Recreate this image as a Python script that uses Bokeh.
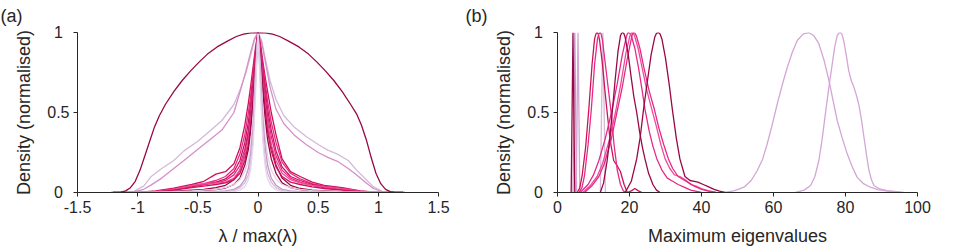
from bokeh.plotting import figure
from bokeh.layouts import row
from bokeh.models import FixedTicker, Range1d
from bokeh.embed import file_html
from bokeh.resources import INLINE

FONT = "Liberation Sans"
INK = "#262626"

DARK = "#990845"
CRIMSON = "#ce1256"
PINK = "#e7298a"
PINK_L = "#ee4c9b"
LILAC = "#c994c7"
LILAC_M = "#d490c8"
PALE = "#d4b9da"
PALEST = "#e4d5ea"
LAVENDER = "#d3a6d6"

# ---------------- panel (a): normalised spectral densities ----------------
A_XTICKS = [-1.5, -1, -0.5, 0, 0.5, 1, 1.5]
A_XLABELS = ["-1.5", "-1", "-0.5", "0", "0.5", "1", "1.5"]
Y_TICKS = [0, 0.5, 1]
# single-digit labels are padded (U+2005 + U+2006) so all three share a centre
Y_LABELS = ["0\u2005\u2006", "0.5", "1\u2005\u2006"]

SEMI_X = [-1.22, -1.14, -1.1, -1.06, -1.02, -0.98, -0.94, -0.9, -0.86, -0.82,
          -0.77, -0.7, -0.63, -0.56, -0.49, -0.42, -0.34, -0.25, -0.18, -0.12,
          -0.06, 0.0, 0.06, 0.12, 0.18, 0.25, 0.34, 0.42, 0.49, 0.56,
          0.63, 0.7, 0.77, 0.82, 0.86, 0.9, 0.94, 0.98, 1.02, 1.06,
          1.1, 1.14, 1.22]
SEMI_Y = [0.0, 0.002, 0.01, 0.03, 0.07, 0.14, 0.23, 0.32, 0.41, 0.48,
          0.55, 0.63, 0.70, 0.76, 0.815, 0.865, 0.91, 0.948, 0.975, 0.99,
          0.998, 1.0, 0.998, 0.99, 0.975, 0.948, 0.91, 0.865, 0.815, 0.76,
          0.70, 0.63, 0.55, 0.49, 0.42, 0.33, 0.22, 0.12, 0.055, 0.02,
          0.005, 0.0, 0.0]

WIDE_X = [-1.2, -1.05, -0.95, -0.89, -0.8, -0.7, -0.615, -0.5, -0.39, -0.3,
          -0.2, -0.145, -0.1, -0.06, -0.03, 0.0, 0.03, 0.06, 0.1, 0.15,
          0.215, 0.3, 0.4, 0.5, 0.58, 0.66, 0.75, 0.82, 0.9, 0.96, 1.05, 1.2]
WIDE1_Y = [0, 0, 0.04, 0.098, 0.15, 0.2, 0.26, 0.32, 0.39, 0.45,
           0.55, 0.65, 0.75, 0.86, 0.95, 1.0, 0.95, 0.84, 0.7, 0.58,
           0.48, 0.41, 0.35, 0.30, 0.265, 0.24, 0.2, 0.14, 0.08, 0.035, 0, 0]
WIDE2_Y = [0, 0, 0.02, 0.046, 0.09, 0.15, 0.2, 0.27, 0.336, 0.39,
           0.5, 0.64, 0.76, 0.88, 0.96, 1.0, 0.94, 0.82, 0.66, 0.52,
           0.43, 0.36, 0.3, 0.25, 0.22, 0.195, 0.15, 0.11, 0.06, 0.025, 0, 0]

NARROW_X = [-1.2, -1.0, -0.85, -0.7, -0.55, -0.45, -0.35, -0.27, -0.2, -0.15,
            -0.11, -0.08, -0.06, -0.04, -0.02, 0.0, 0.02, 0.04, 0.06, 0.08,
            0.11, 0.15, 0.2, 0.27, 0.35, 0.45, 0.55, 0.7, 0.85, 1.0, 1.2]
B1_Y = [0, 0, 0.01, 0.028, 0.05, 0.07, 0.115, 0.13, 0.18, 0.28, 0.42, 0.56, 0.67, 0.79, 0.91,
        1.0, 0.93, 0.82, 0.72, 0.63, 0.5, 0.36, 0.21, 0.13, 0.1, 0.065, 0.045, 0.03, 0.01, 0, 0]
B2_Y = [0, 0, 0.006, 0.022, 0.042, 0.055, 0.075, 0.1, 0.15, 0.24, 0.36, 0.5, 0.61, 0.75, 0.89,
        1.0, 0.92, 0.8, 0.68, 0.57, 0.44, 0.31, 0.19, 0.12, 0.085, 0.055, 0.04, 0.025, 0.008, 0, 0]
B3_Y = [0, 0, 0.004, 0.018, 0.035, 0.05, 0.065, 0.085, 0.13, 0.2, 0.31, 0.44, 0.56, 0.71, 0.87,
        1.0, 0.91, 0.77, 0.64, 0.52, 0.39, 0.26, 0.16, 0.1, 0.075, 0.05, 0.035, 0.02, 0.006, 0, 0]
B4_Y = [0, 0, 0.005, 0.02, 0.04, 0.05, 0.06, 0.075, 0.11, 0.17, 0.27, 0.39, 0.51, 0.67, 0.85,
        1.0, 0.9, 0.74, 0.6, 0.48, 0.35, 0.23, 0.14, 0.09, 0.065, 0.045, 0.03, 0.018, 0.005, 0, 0]
B5_Y = [0, 0, 0.002, 0.008, 0.015, 0.02, 0.03, 0.045, 0.08, 0.14, 0.24, 0.36, 0.48, 0.64, 0.84,
        1.0, 0.88, 0.71, 0.56, 0.43, 0.29, 0.17, 0.09, 0.045, 0.025, 0.015, 0.01, 0.006, 0.002, 0, 0]
B6_Y = [0, 0, 0.005, 0.02, 0.045, 0.055, 0.06, 0.065, 0.09, 0.14, 0.23, 0.34, 0.46, 0.62, 0.83,
        1.0, 0.88, 0.7, 0.55, 0.42, 0.3, 0.2, 0.12, 0.08, 0.06, 0.045, 0.035, 0.022, 0.007, 0, 0]
B7_Y = [0, 0, 0.004, 0.015, 0.03, 0.04, 0.05, 0.06, 0.08, 0.12, 0.2, 0.3, 0.42, 0.59, 0.81,
        1.0, 0.86, 0.67, 0.51, 0.38, 0.26, 0.16, 0.1, 0.065, 0.05, 0.035, 0.025, 0.015, 0.005, 0, 0]
B8_Y = [0, 0, 0.001, 0.005, 0.01, 0.013, 0.018, 0.028, 0.05, 0.09, 0.17, 0.27, 0.39, 0.57, 0.8,
        1.0, 0.84, 0.63, 0.46, 0.33, 0.21, 0.12, 0.06, 0.03, 0.018, 0.012, 0.008, 0.004, 0.001, 0, 0]
P1_Y = [0, 0, 0, 0, 0, 0.002, 0.005, 0.01, 0.02, 0.04, 0.08, 0.15, 0.25, 0.42, 0.72,
        1.0, 0.75, 0.46, 0.28, 0.17, 0.09, 0.045, 0.02, 0.01, 0.005, 0.002, 0, 0, 0, 0, 0]
P2_Y = [0, 0, 0, 0, 0, 0, 0.002, 0.005, 0.012, 0.03, 0.06, 0.11, 0.19, 0.36, 0.68,
        1.0, 0.7, 0.38, 0.2, 0.12, 0.065, 0.03, 0.012, 0.005, 0.002, 0, 0, 0, 0, 0, 0]
P3_Y = [0, 0, 0.002, 0.006, 0.01, 0.015, 0.02, 0.03, 0.05, 0.08, 0.13, 0.2, 0.3, 0.48, 0.77,
        1.0, 0.8, 0.52, 0.34, 0.23, 0.14, 0.085, 0.05, 0.03, 0.02, 0.012, 0.008, 0.004, 0.001, 0, 0]
P4_Y = [0, 0, 0, 0, 0, 0, 0, 0.002, 0.006, 0.015, 0.035, 0.08, 0.15, 0.3, 0.62,
        1.0, 0.64, 0.32, 0.16, 0.085, 0.04, 0.016, 0.006, 0.002, 0, 0, 0, 0, 0, 0, 0]

# ---------------- panel (b): maximum eigenvalue distributions ----------------
B_XTICKS = [0, 20, 40, 60, 80, 100]
B_XLABELS = ["0", "20", "40", "60", "80", "100"]

S1_X = [3.8, 4.1, 4.3, 4.5, 4.8]
S1_Y = [0, 0.6, 1.0, 0.6, 0]
S2_X = [4.3, 4.6, 4.8, 5.0, 5.3]
S2_Y = [0, 0.6, 1.0, 0.6, 0]
S3_X = [5.2, 5.5, 5.7, 5.9, 6.2]
S3_Y = [0, 0.6, 1.0, 0.6, 0]
S4_X = [11.9, 12.3, 12.6, 12.9, 13.3]
S4_Y = [0, 0.6, 1.0, 0.6, 0]

RA_X = [5.5, 6.2, 6.85, 7.8, 8.7, 9.6, 10.3, 10.65, 11.0, 11.35, 11.7, 12.5, 13.2, 13.8,
        14.6, 15.6, 16.5, 17.5, 18.5, 19.4, 20.5, 21.5, 22.5, 23.5]
RA_Y = [0, 0.03, 0.106, 0.28, 0.52, 0.8, 0.96, 0.99, 1.0, 0.99, 0.95, 0.8, 0.63, 0.5,
        0.33, 0.2, 0.17, 0.13, 0.05, 0, 0.01, 0.025, 0.01, 0]
RB_X = [6.0, 6.8, 7.5, 8.5, 9.4, 10.3, 11.1, 11.45, 11.8, 12.15, 12.5, 13.3, 14.1, 14.9,
        15.7, 16.6, 17.5, 18.3, 19.0]
RB_Y = [0, 0.03, 0.106, 0.3, 0.52, 0.8, 0.96, 0.99, 1.0, 0.99, 0.95, 0.8, 0.65, 0.5,
        0.3, 0.14, 0.05, 0.01, 0]
RC_X = [11.9, 12.8, 13.8, 14.5, 15.2, 16.0, 16.8, 17.5, 17.8, 18.1, 18.4, 18.8, 19.6, 20.4,
        21.2, 22.0, 22.8, 23.6, 24.3, 25.3, 26.5, 27.5, 28.5]
RC_Y = [0, 0.06, 0.2, 0.33, 0.5, 0.7, 0.88, 0.98, 0.995, 1.0, 0.995, 0.97, 0.87, 0.73,
        0.6, 0.5, 0.38, 0.28, 0.21, 0.12, 0.05, 0.015, 0]
RD_X = [6.3, 8.5, 10.0, 11.5, 13.3, 15.0, 16.6, 18.0, 19.0, 19.35, 19.7, 20.1, 20.5, 21.5,
        22.5, 23.5, 24.3, 25.5, 26.5, 27.6, 29.0, 30.5, 32.0, 33.5, 35.0, 37.0, 40.0]
RD_Y = [0, 0.05, 0.11, 0.2, 0.34, 0.5, 0.68, 0.86, 0.96, 0.99, 1.0, 0.995, 0.98, 0.9,
        0.78, 0.64, 0.52, 0.38, 0.29, 0.21, 0.14, 0.09, 0.07, 0.05, 0.035, 0.015, 0]
RE_X = [7.0, 9.0, 11.0, 12.5, 14.3, 16.1, 17.6, 19.0, 20.0, 20.3, 20.6, 21.0, 21.4, 22.4,
        23.5, 24.8, 26.2, 27.5, 28.7, 29.9, 31.2, 32.5, 34.0, 35.5, 37.0, 38.5, 40.0, 42.0, 44.0]
RE_Y = [0, 0.04, 0.1, 0.18, 0.32, 0.5, 0.68, 0.87, 0.97, 0.99, 1.0, 0.995, 0.98, 0.9,
        0.78, 0.64, 0.52, 0.41, 0.3, 0.21, 0.15, 0.11, 0.1, 0.08, 0.05, 0.04, 0.025, 0.01, 0]
RF_X = [7.5, 9.5, 11.5, 13.0, 14.8, 16.5, 18.0, 19.5, 20.5, 20.8, 21.1, 21.5, 21.9, 22.9,
        24.0, 25.4, 26.9, 28.2, 29.5, 30.8, 32.0, 33.5, 35.0, 36.5, 38.0, 40.0, 42.0, 44.0]
RF_Y = [0, 0.04, 0.1, 0.18, 0.32, 0.5, 0.66, 0.85, 0.96, 0.99, 1.0, 0.995, 0.98, 0.9,
        0.78, 0.64, 0.52, 0.4, 0.3, 0.21, 0.15, 0.1, 0.08, 0.06, 0.04, 0.02, 0.008, 0]
RG_X = [18.8, 20.5, 22.0, 23.0, 23.9, 25.0, 26.0, 27.0, 27.5, 28.0, 28.5, 29.0, 30.0, 31.0,
        31.9, 33.0, 34.0, 35.4, 36.8, 38.0, 39.0, 40.5, 42.0, 43.5, 45.0, 46.5]
RG_Y = [0, 0.07, 0.21, 0.35, 0.52, 0.7, 0.86, 0.97, 0.995, 1.0, 0.99, 0.96, 0.84, 0.68,
        0.52, 0.34, 0.21, 0.1, 0.075, 0.07, 0.065, 0.05, 0.035, 0.02, 0.008, 0]
RH_X = [46.2, 49.0, 51.8, 53.8, 55.5, 57.0, 58.2, 59.6, 61.0, 62.4,
        63.8, 65.2, 66.6, 68.2, 69.8, 71.2, 72.6, 74.0, 75.4, 76.6,
        77.7, 79.1, 80.5, 81.9, 83.2, 85.0, 86.9, 89.0, 91.6, 95.3]
RH_Y = [0, 0.01, 0.033, 0.075, 0.1375, 0.21, 0.30, 0.42, 0.55, 0.67,
        0.78, 0.875, 0.95, 0.99, 1.0, 0.98, 0.93, 0.83, 0.70, 0.57,
        0.45, 0.34, 0.24, 0.16, 0.096, 0.055, 0.033, 0.018, 0.008, 0]
RI_X = [66.1, 68.5, 70.3, 71.5, 72.6, 73.5, 74.4, 75.4, 76.3, 77.0,
        77.7, 78.2, 78.6, 79.0, 79.5, 80.2, 80.9, 81.6, 82.3, 83.0,
        83.7, 84.4, 85.1, 85.8, 86.5, 87.2, 87.9, 89.5, 91.6, 96.2]
RI_Y = [0, 0.015, 0.044, 0.1, 0.2, 0.33, 0.49, 0.66, 0.80, 0.91,
        0.98, 0.998, 1.0, 0.99, 0.95, 0.86, 0.76, 0.70, 0.66, 0.61,
        0.55, 0.46, 0.35, 0.24, 0.14, 0.08, 0.044, 0.022, 0.012, 0]


def make_panel(width, x_start, x_end, xticks, xlabels, xtitle, tag, border_left, border_right):
    p = figure(width=width, height=251, output_backend="svg", toolbar_location=None,
               x_range=Range1d(x_start, x_end), y_range=Range1d(0, 1),
               min_border_left=border_left, min_border_right=border_right,
               min_border_top=32, min_border_bottom=59)
    p.outline_line_color = None
    p.xgrid.visible = False
    p.ygrid.visible = False
    p.background_fill_color = "white"

    # panel tag in the top-left corner of the canvas
    p.title.text = tag
    p.title.align = "left"
    p.title.vertical_align = "top"
    p.title.offset = -border_left
    p.title.standoff = 10
    p.title.text_font = FONT
    p.title.text_font_size = "18px"
    p.title.text_font_style = "normal"
    p.title.text_color = INK

    for ax in (p.xaxis[0], p.yaxis[0]):
        ax.axis_line_color = INK
        ax.axis_line_width = 1
        ax.major_tick_line_color = INK
        ax.major_tick_out = 4
        ax.major_tick_in = 0
        ax.minor_tick_line_color = None
        ax.axis_label_text_font = FONT
        ax.axis_label_text_font_size = "18px"
        ax.axis_label_text_font_style = "normal"
        ax.axis_label_text_color = INK
        ax.major_label_text_font = FONT
        ax.major_label_text_font_size = "16px"
        ax.major_label_text_color = INK

    p.xaxis.ticker = FixedTicker(ticks=xticks)
    p.xaxis.major_label_overrides = dict(zip(xticks, xlabels))
    p.xaxis.major_label_standoff = 4
    p.xaxis.axis_label = xtitle
    p.xaxis.axis_label_standoff = 10

    p.yaxis.ticker = FixedTicker(ticks=Y_TICKS)
    p.yaxis.major_label_overrides = dict(zip(Y_TICKS, Y_LABELS))
    p.yaxis.major_label_standoff = 4
    p.yaxis.axis_label = "Density (normalised)"
    p.yaxis.axis_label_standoff = 10
    return p


lw = 1.3
pa = make_panel(465, -1.5, 1.5, A_XTICKS, A_XLABELS, "λ / max(λ)", "(a)", 77, 27)
pa.line(WIDE_X, WIDE1_Y, line_color=PALE, line_width=lw)
pa.line(WIDE_X, WIDE2_Y, line_color=LILAC_M, line_width=lw)
for ys, col in [(B1_Y, CRIMSON), (B2_Y, PINK), (B3_Y, CRIMSON), (B4_Y, PINK),
                (B5_Y, DARK), (B6_Y, PINK_L), (B7_Y, CRIMSON), (B8_Y, DARK)]:
    pa.line(NARROW_X, ys, line_color=col, line_width=lw)
for ys, col in [(P3_Y, PALEST), (P1_Y, LILAC), (P2_Y, PALE), (P4_Y, PALEST)]:
    pa.line(NARROW_X, ys, line_color=col, line_width=lw)
pa.line(SEMI_X, SEMI_Y, line_color=DARK, line_width=lw)

pb = make_panel(497, 0, 100, B_XTICKS, B_XLABELS, "Maximum eigenvalues", "(b)", 92, 45)
for xs, ys, col in [(RH_X, RH_Y, LAVENDER), (RI_X, RI_Y, LAVENDER),
                    (S4_X, S4_Y, PALE), (S2_X, S2_Y, LILAC), (S3_X, S3_Y, LAVENDER),
                    (S1_X, S1_Y, DARK),
                    (RA_X, RA_Y, CRIMSON), (RB_X, RB_Y, PINK),
                    (RD_X, RD_Y, PINK), (RE_X, RE_Y, PINK_L), (RF_X, RF_Y, PINK),
                    (RC_X, RC_Y, DARK), (RG_X, RG_Y, DARK)]:
    pb.line(xs, ys, line_color=col, line_width=lw)

layout = row(pa, pb)
with open("out.html", "w") as f:
    f.write(file_html(layout, INLINE))
